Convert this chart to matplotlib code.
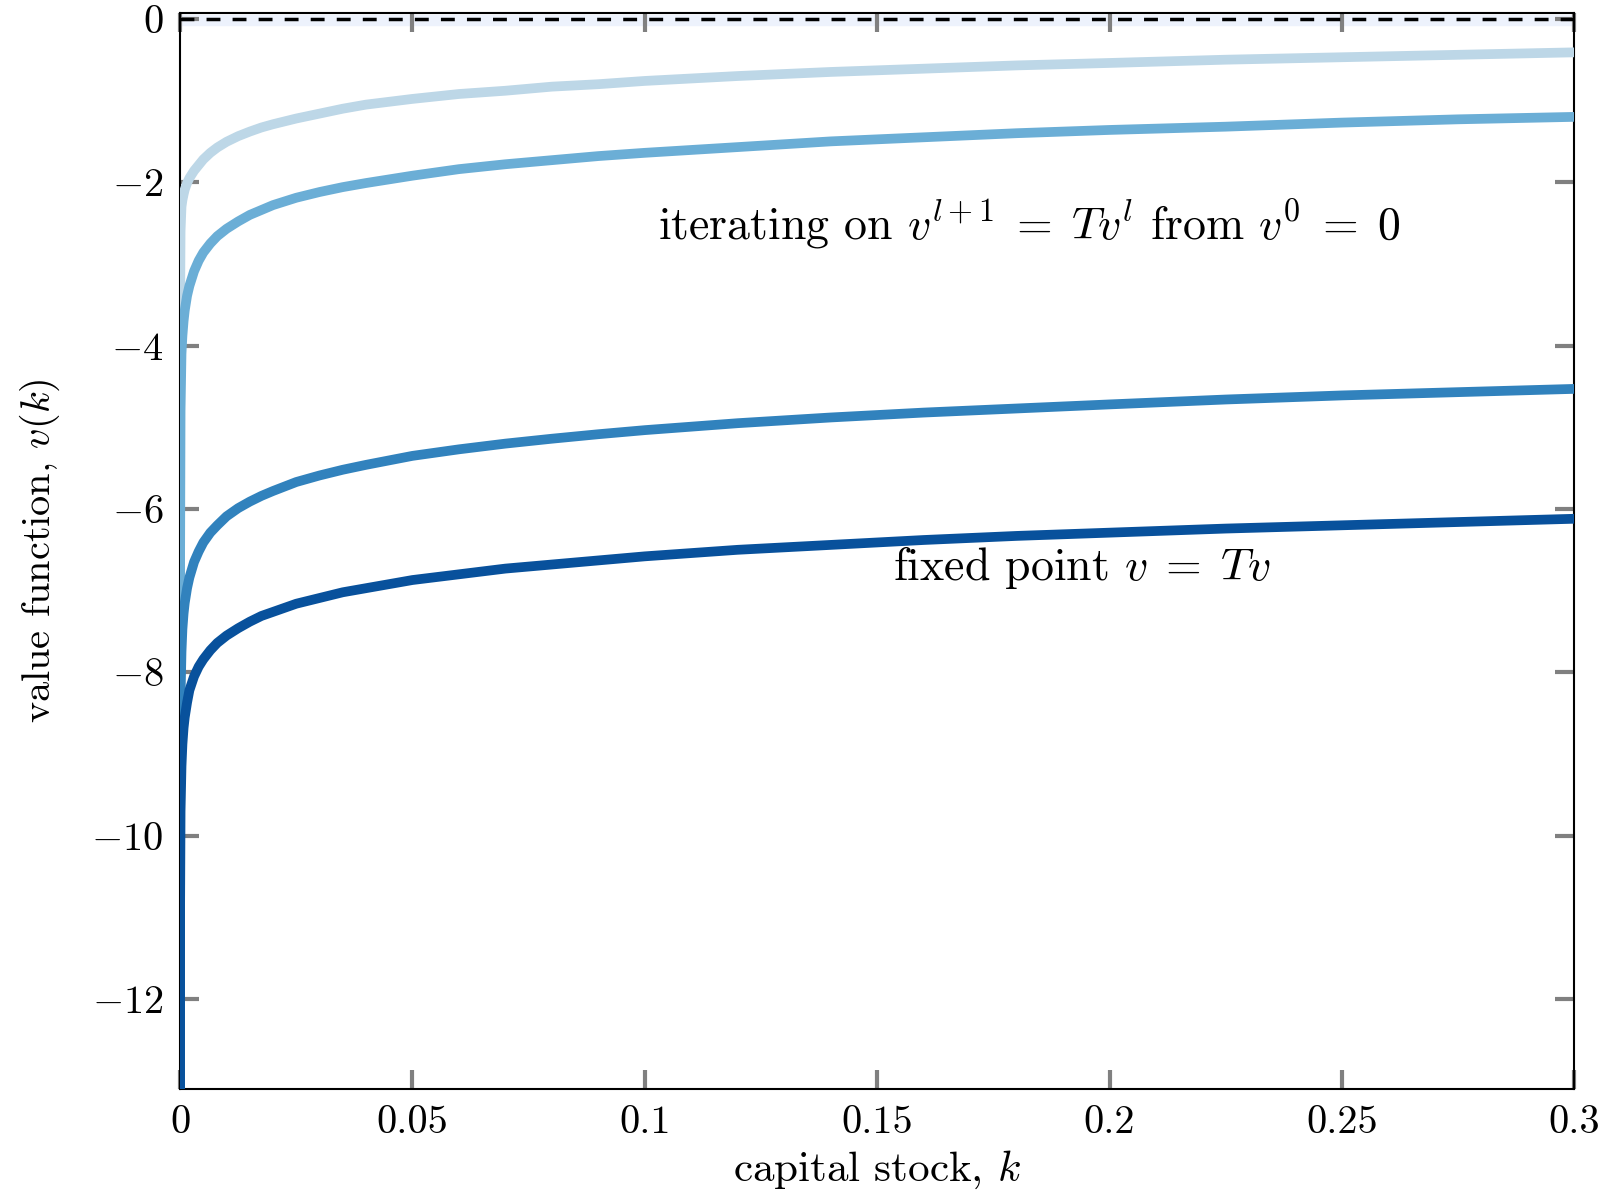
import numpy as np
import matplotlib
matplotlib.use("Agg")
import matplotlib.pyplot as plt

plt.rcParams['font.family'] = 'cmr10'
plt.rcParams['mathtext.fontset'] = 'cm'
plt.rcParams['axes.formatter.use_mathtext'] = True

# capital grid
k = [1e-7, 1e-6, 1e-5, 1e-4, 0.0003, 0.0005, 0.00075, 0.001, 0.0015, 0.002,
     0.003, 0.004, 0.005, 0.0065, 0.008, 0.01, 0.0125, 0.015, 0.0175, 0.02,
     0.025, 0.03, 0.035, 0.04, 0.05, 0.06, 0.07, 0.08, 0.09, 0.1,
     0.12, 0.14, 0.16, 0.18, 0.2, 0.225, 0.25, 0.275, 0.3]

# value function iterates, lightest (early) to darkest (fixed point)
v_iter1 = [-13.3, -5.0, -3.5, -2.6, -2.30, -2.22, -2.15, -2.09, -2.01, -1.95,
           -1.86, -1.79, -1.72, -1.64, -1.575, -1.505, -1.436, -1.38, -1.33, -1.29,
           -1.22, -1.16, -1.10, -1.05, -0.98, -0.92, -0.88, -0.83, -0.80, -0.76,
           -0.70, -0.65, -0.61, -0.57, -0.54, -0.50, -0.47, -0.44, -0.41]
v_iter2 = [-13.3, -9.0, -6.5, -4.8, -4.10, -3.88, -3.70, -3.57, -3.39, -3.27,
           -3.09, -2.96, -2.86, -2.75, -2.66, -2.57, -2.48, -2.40, -2.34, -2.28,
           -2.19, -2.12, -2.06, -2.01, -1.92, -1.84, -1.78, -1.73, -1.68, -1.64,
           -1.57, -1.50, -1.45, -1.40, -1.36, -1.32, -1.27, -1.23, -1.20]
v_iter3 = [-13.3, -11.2, -9.6, -8.3, -7.75, -7.47, -7.28, -7.15, -6.97, -6.84,
           -6.65, -6.52, -6.41, -6.29, -6.20, -6.09, -5.99, -5.91, -5.84, -5.78,
           -5.67, -5.59, -5.52, -5.46, -5.35, -5.27, -5.20, -5.14, -5.085, -5.035,
           -4.95, -4.88, -4.82, -4.77, -4.72, -4.66, -4.61, -4.57, -4.53]
v_fixed = [-13.3, -11.9, -10.8, -9.7, -9.15, -8.88, -8.68, -8.55, -8.37, -8.22,
           -8.05, -7.93, -7.84, -7.73, -7.64, -7.55, -7.46, -7.38, -7.31, -7.26,
           -7.16, -7.09, -7.02, -6.97, -6.87, -6.80, -6.73, -6.68, -6.63, -6.58,
           -6.50, -6.44, -6.38, -6.33, -6.29, -6.24, -6.20, -6.16, -6.12]

series = [v_iter1, v_iter2, v_iter3, v_fixed]
colors = ['#bdd7e7', '#6baed6', '#3182bd', '#08519c']

xticks = [0, 0.05, 0.1, 0.15, 0.2, 0.25, 0.3]
xticklabels = ['0', '0.05', '0.1', '0.15', '0.2', '0.25', '0.3']
yticks = [0, -2, -4, -6, -8, -10, -12]

fig = plt.figure(figsize=(16.08, 11.94), dpi=100)
ax = fig.add_axes([0.112, 0.088, 0.867, 0.901])

# faint band and dashed zero line (the initial guess v0 = 0)
ax.axhspan(-0.07, 0.05, color='#edf2fc', zorder=1)
ax.axhline(0, color='black', lw=2.5, ls=(0, (4, 3.5)), zorder=2)

for vals, c in zip(series, colors):
    ax.plot(k, vals, color=c, lw=7, solid_capstyle='butt',
            solid_joinstyle='round', zorder=3)

ax.set_xlim(0, 0.3)
ax.set_ylim(-13.1, 0.07)
ax.set_xticks(xticks)
ax.set_xticklabels(xticklabels)
ax.set_yticks(yticks)

ax.tick_params(direction='in', length=14, width=3, color='#808080',
               top=True, right=True, labelsize=29, pad=12)
for s in ax.spines.values():
    s.set_linewidth(1.5)

ax.set_xlabel(r'capital stock, $k$', fontsize=31, labelpad=5)
ax.set_ylabel(r'value function, $v(k)$', fontsize=29, labelpad=21)

ax.text(0.1826, -2.52,
        r'iterating on $v^{l+1} \;=\; Tv^{l}$ from $v^{0} \;=\; 0$',
        fontsize=33, ha='center', va='center', zorder=4)
ax.text(0.194, -6.72, r'fixed point $v \;=\; Tv$',
        fontsize=33, ha='center', va='center', zorder=4)

fig.savefig('out.png', dpi=100)
